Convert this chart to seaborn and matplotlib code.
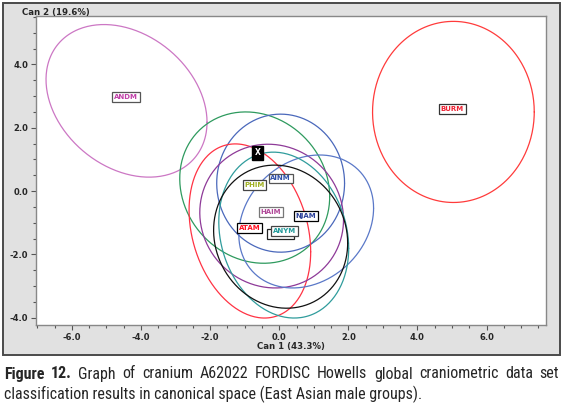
import numpy as np
import pandas as pd
import matplotlib
matplotlib.use("Agg")
import matplotlib.pyplot as plt
from matplotlib import font_manager
from matplotlib.patches import Rectangle
from matplotlib.ticker import MultipleLocator, FormatStrFormatter
import seaborn as sns

# ------------- data -------------
groups = ["ANDM", "BURM", "PHIM", "AINM", "ATAM", "HAIM", "NJAM", "ANYM", "BLK"]
center_x = [-4.42, 5.04, -0.71, 0.04, -0.85, -0.22, 0.78, 0.13, 0.04]
center_y = [2.85, 2.50, 0.11, 0.25, -1.26, -0.79, -0.96, -1.39, -1.44]
half_x = [2.33, 2.34, 2.17, 1.85, 1.76, 2.08, 1.95, 1.88, 1.94]
half_y = [2.41, 2.86, 2.39, 2.18, 2.75, 2.27, 2.10, 2.62, 2.26]
rho = [-0.28, 0.0, -0.12, 0.0, -0.24, -0.05, 0.2, -0.16, -0.09]
ell_colors = ["#cc77c4", "#ff3b3b", "#2e9a5e", "#4a68bb", "#ff3344",
              "#8e3a98", "#5a78c8", "#2f9c9c", "#111111"]

label_names = ["ANDM", "BURM", "PHIM", "AINM", "ATAM", "HAIM", "NJAM", "ANYM"]
label_x = [-4.44, 5.01, -0.72, 0.04, -0.85, -0.25, 0.77, 0.16]
label_y = [2.97, 2.59, 0.19, 0.40, -1.17, -0.66, -0.79, -1.26]
label_colors = ["#c040a8", "#ee2233", "#a0b020", "#3050a8", "#ff1122",
                "#b04898", "#2a3f99", "#229a9a"]
label_edges = ["#555555", "#333333", "#444444", "#555555", "#000000",
               "#777777", "#000000", "#444444"]

unknown_x, unknown_y = -0.62, 1.21

x_label = "Can 1 (43.3%)"
y_label = "Can 2 (19.6%)"
caption_bold = "Figure 12."
caption_1 = "Graph of cranium A62022 FORDISC Howells global craniometric data set"
caption_2 = "classification results in canonical space (East Asian male groups)."

# ------------- figure -------------
sns.set_style("white")
plt.rcParams["font.family"] = ["DejaVu Sans"]

W, H = 563, 407
fig = plt.figure(figsize=(W / 100, H / 100), dpi=100)

# gray FORDISC panel
fig.patches.append(Rectangle((3 / W, 1 - 355 / H), 557 / W, 352 / H,
                             transform=fig.transFigure, facecolor="#e1e1e1",
                             edgecolor="#4a4a4a", linewidth=1.4, zorder=-5))

ax = fig.add_axes([36 / W, 1 - 325 / H, 510 / W, 309 / H])
ax.set_zorder(2)
ax.set_facecolor("white")

t = np.linspace(0, 2 * np.pi, 300)
rows = []
for g, cx, cy, hx, hy, r in zip(groups, center_x, center_y, half_x, half_y, rho):
    ex = cx + hx * np.cos(t)
    ey = cy + hy * (r * np.cos(t) + np.sqrt(1 - r * r) * np.sin(t))
    rows.append(pd.DataFrame({"x": ex, "y": ey, "group": g}))
ell = pd.concat(rows, ignore_index=True)

sns.lineplot(data=ell, x="x", y="y", hue="group", units="group", estimator=None,
             sort=False, palette=dict(zip(groups, ell_colors)), linewidth=0.9,
             legend=False, ax=ax)

ax.set_xlim(-7.04, 7.72)
ax.set_ylim(-4.23, 5.53)

box_style = dict(boxstyle="square,pad=0.25", facecolor="white", linewidth=0.9)
label_texts = []
for name, lx, ly, c, ec in zip(label_names, label_x, label_y, label_colors, label_edges):
    label_texts.append(ax.text(lx, ly, name, color=c, fontsize=5, fontweight="bold",
                               ha="center", va="center",
                               bbox=dict(box_style, edgecolor=ec), zorder=6))

ax.text(unknown_x, unknown_y, "X", color="white", fontsize=5.5, fontweight="bold",
        ha="center", va="center",
        bbox=dict(boxstyle="square,pad=0.35", facecolor="black", edgecolor="black"),
        zorder=7)

ax.xaxis.set_major_locator(MultipleLocator(2))
ax.xaxis.set_minor_locator(MultipleLocator(0.5))
ax.yaxis.set_major_locator(MultipleLocator(2))
ax.yaxis.set_minor_locator(MultipleLocator(0.5))
ax.xaxis.set_major_formatter(FormatStrFormatter("%.1f"))
ax.yaxis.set_major_formatter(FormatStrFormatter("%.1f"))
ax.set_xlabel("")
ax.set_ylabel("")
ax.tick_params(which="both", direction="out", color="#555555", width=0.8,
               labelsize=6, pad=2, bottom=True, left=True)
ax.tick_params(which="major", length=3.5)
ax.tick_params(which="minor", length=2.5)
for lab in ax.get_xticklabels() + ax.get_yticklabels():
    lab.set_fontweight("bold")
for s in ax.spines.values():
    s.set_color("#888888")
    s.set_linewidth(1)

fig.text(22 / W, 1 - 12.5 / H, y_label, fontsize=6.2, fontweight="bold",
         ha="left", va="center")
fig.text(291 / W, 1 - 346 / H, x_label, fontsize=6.2, fontweight="bold",
         ha="center", va="center")

# second box hidden behind ANYM (the black ellipse's label)
renderer = fig.canvas.get_renderer()
fig.canvas.draw()
bb = label_texts[-1].get_bbox_patch().get_window_extent(renderer)
ax.add_patch(Rectangle((bb.x0 - 4, bb.y0 - 3), bb.width, bb.height, transform=None,
                       facecolor="white", edgecolor="#222222", linewidth=0.9,
                       zorder=5))

# ------------- caption (first line justified) -------------
names = {f.name for f in font_manager.fontManager.ttflist}
cap_font = "DejaVu Sans"
for cand in ["Liberation Sans Narrow", "Roboto Condensed", "Open Sans Condensed",
             "DejaVu Sans Condensed", "Liberation Sans"]:
    if cand in names:
        cap_font = cand
        break

probe = fig.text(0, 0, caption_2, fontsize=10, family=cap_font)
w2 = probe.get_window_extent(renderer).width
probe.remove()
cap_size = 10 * 417 / w2

words = caption_bold.split() + caption_1.split()
weights = ["bold"] * len(caption_bold.split()) + ["normal"] * len(caption_1.split())
widths = []
for wd, wt in zip(words, weights):
    p = fig.text(0, 0, wd, fontsize=cap_size, family=cap_font, fontweight=wt)
    widths.append(p.get_window_extent(renderer).width)
    p.remove()
x0, x1 = 4, 559
gap = (x1 - x0 - sum(widths)) / (len(words) - 1)
xp = x0
for wd, wt, wdt in zip(words, weights, widths):
    fig.text(xp / W, 1 - 374 / H, wd, fontsize=cap_size, family=cap_font,
             fontweight=wt, ha="left", va="center")
    xp += wdt + gap
fig.text(x0 / W, 1 - 394 / H, caption_2, fontsize=cap_size, family=cap_font,
         ha="left", va="center")

fig.savefig("out.png", dpi=100)
